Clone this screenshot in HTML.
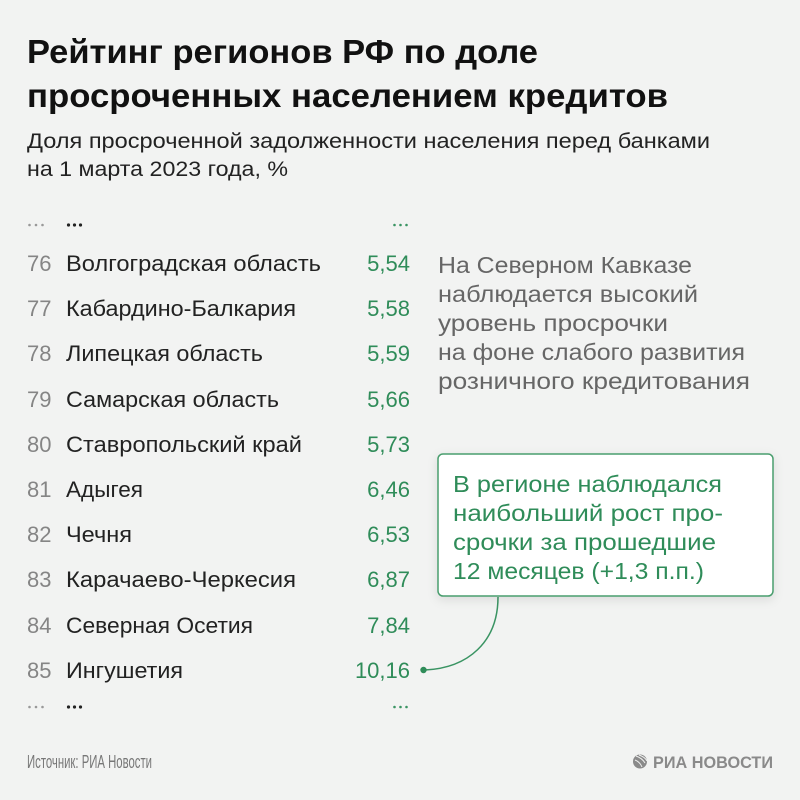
<!DOCTYPE html>
<html><head><meta charset="utf-8"><style>
html,body{margin:0;padding:0;background:#f2f3f2;}
svg{display:block;}
text{font-family:"Liberation Sans","DejaVu Sans",sans-serif;}
</style></head><body>
<svg width="800" height="800" viewBox="0 0 800 800" xmlns="http://www.w3.org/2000/svg">
<defs>
<filter id="sh" x="-10%" y="-10%" width="120%" height="130%">
<feDropShadow dx="0" dy="3" stdDeviation="5" flood-color="#000" flood-opacity="0.10"/>
</filter>
</defs>
<rect width="800" height="800" fill="#f2f3f2"/>
<!-- Title -->
<text x="27" y="63" font-size="33" font-weight="bold" fill="#111" textLength="511" lengthAdjust="spacingAndGlyphs">Рейтинг регионов РФ по доле</text>
<text x="27" y="107" font-size="33" font-weight="bold" fill="#111" textLength="641" lengthAdjust="spacingAndGlyphs">просроченных населением кредитов</text>
<text x="27" y="148" font-size="21" fill="#222" textLength="683" lengthAdjust="spacingAndGlyphs">Доля просроченной задолженности населения перед банками</text>
<text x="27" y="176" font-size="21" fill="#222" textLength="261" lengthAdjust="spacingAndGlyphs">на 1 марта 2023 года, %</text>

<!-- top dots -->
<g fill="#999"><circle cx="29.5" cy="225" r="1.3"/><circle cx="36" cy="225" r="1.3"/><circle cx="42.5" cy="225" r="1.3"/></g>
<g fill="#222"><circle cx="68.5" cy="225" r="1.6"/><circle cx="74.5" cy="225" r="1.6"/><circle cx="80.5" cy="225" r="1.6"/></g>
<g fill="#3a9463"><circle cx="394.5" cy="225" r="1.3"/><circle cx="400.5" cy="225" r="1.3"/><circle cx="406.5" cy="225" r="1.3"/></g>

<!-- rows -->
<g font-size="22">
<g fill="#858585">
<text x="27" y="271">76</text>
<text x="27" y="316">77</text>
<text x="27" y="361">78</text>
<text x="27" y="407">79</text>
<text x="27" y="452">80</text>
<text x="27" y="497">81</text>
<text x="27" y="542">82</text>
<text x="27" y="587">83</text>
<text x="27" y="633">84</text>
<text x="27" y="678">85</text>
</g>
<g fill="#222">
<text x="66" y="271" textLength="255" lengthAdjust="spacingAndGlyphs">Волгоградская область</text>
<text x="66" y="316" textLength="230" lengthAdjust="spacingAndGlyphs">Кабардино-Балкария</text>
<text x="66" y="361" textLength="197" lengthAdjust="spacingAndGlyphs">Липецкая область</text>
<text x="66" y="407" textLength="213" lengthAdjust="spacingAndGlyphs">Самарская область</text>
<text x="66" y="452" textLength="236" lengthAdjust="spacingAndGlyphs">Ставропольский край</text>
<text x="66" y="497" textLength="77" lengthAdjust="spacingAndGlyphs">Адыгея</text>
<text x="66" y="542" textLength="66" lengthAdjust="spacingAndGlyphs">Чечня</text>
<text x="66" y="587" textLength="230" lengthAdjust="spacingAndGlyphs">Карачаево-Черкесия</text>
<text x="66" y="633" textLength="187" lengthAdjust="spacingAndGlyphs">Северная Осетия</text>
<text x="66" y="678" textLength="117" lengthAdjust="spacingAndGlyphs">Ингушетия</text>
</g>
<g fill="#2f8c59" text-anchor="end">
<text x="410" y="271">5,54</text>
<text x="410" y="316">5,58</text>
<text x="410" y="361">5,59</text>
<text x="410" y="407">5,66</text>
<text x="410" y="452">5,73</text>
<text x="410" y="497">6,46</text>
<text x="410" y="542">6,53</text>
<text x="410" y="587">6,87</text>
<text x="410" y="633">7,84</text>
<text x="410" y="678">10,16</text>
</g>
</g>

<!-- bottom dots -->
<g fill="#999"><circle cx="29.5" cy="707" r="1.3"/><circle cx="36" cy="707" r="1.3"/><circle cx="42.5" cy="707" r="1.3"/></g>
<g fill="#222"><circle cx="68.5" cy="707" r="1.6"/><circle cx="74.5" cy="707" r="1.6"/><circle cx="80.5" cy="707" r="1.6"/></g>
<g fill="#3a9463"><circle cx="394.5" cy="707" r="1.3"/><circle cx="400.5" cy="707" r="1.3"/><circle cx="406.5" cy="707" r="1.3"/></g>

<!-- right paragraph -->
<g font-size="23" fill="#666">
<text x="438" y="273" textLength="254" lengthAdjust="spacingAndGlyphs">На Северном Кавказе</text>
<text x="438" y="302" textLength="260" lengthAdjust="spacingAndGlyphs">наблюдается высокий</text>
<text x="438" y="331" textLength="230" lengthAdjust="spacingAndGlyphs">уровень просрочки</text>
<text x="438" y="360" textLength="307" lengthAdjust="spacingAndGlyphs">на фоне слабого развития</text>
<text x="438" y="389" textLength="312" lengthAdjust="spacingAndGlyphs">розничного кредитования</text>
</g>

<!-- connector -->
<path d="M498,597 C498,642 468,668 425,670" fill="none" stroke="#3a9463" stroke-width="1.5"/>
<circle cx="423.5" cy="670" r="3.2" fill="#2f8c59"/>

<!-- callout box -->
<rect x="438" y="454" width="335" height="142" rx="5" ry="5" fill="#fff" stroke="#4a9e6e" stroke-width="1.5" filter="url(#sh)"/>
<g font-size="23" fill="#2f8c59">
<text x="453" y="492" textLength="269" lengthAdjust="spacingAndGlyphs">В регионе наблюдался</text>
<text x="453" y="521" textLength="270" lengthAdjust="spacingAndGlyphs">наибольший рост про-</text>
<text x="453" y="550" textLength="263" lengthAdjust="spacingAndGlyphs">срочки за прошедшие</text>
<text x="453" y="579" textLength="251" lengthAdjust="spacingAndGlyphs">12 месяцев (+1,3 п.п.)</text>
</g>

<!-- footer -->
<text x="27" y="768" font-size="18" fill="#777" textLength="125" lengthAdjust="spacingAndGlyphs">Источник: РИА Новости</text>
<g>
<circle cx="640" cy="761.5" r="7" fill="#8a8a8a"/>
<path d="M636,756 Q642,758 645,763 M635,760 Q640,762 642,767 M639,755 Q645,757 647,761" stroke="#f2f3f2" stroke-width="1" fill="none"/>
<text x="653" y="768" font-size="17" font-weight="bold" fill="#8a8a8a" textLength="120" lengthAdjust="spacingAndGlyphs">РИА НОВОСТИ</text>
</g>
</svg>
</body></html>
